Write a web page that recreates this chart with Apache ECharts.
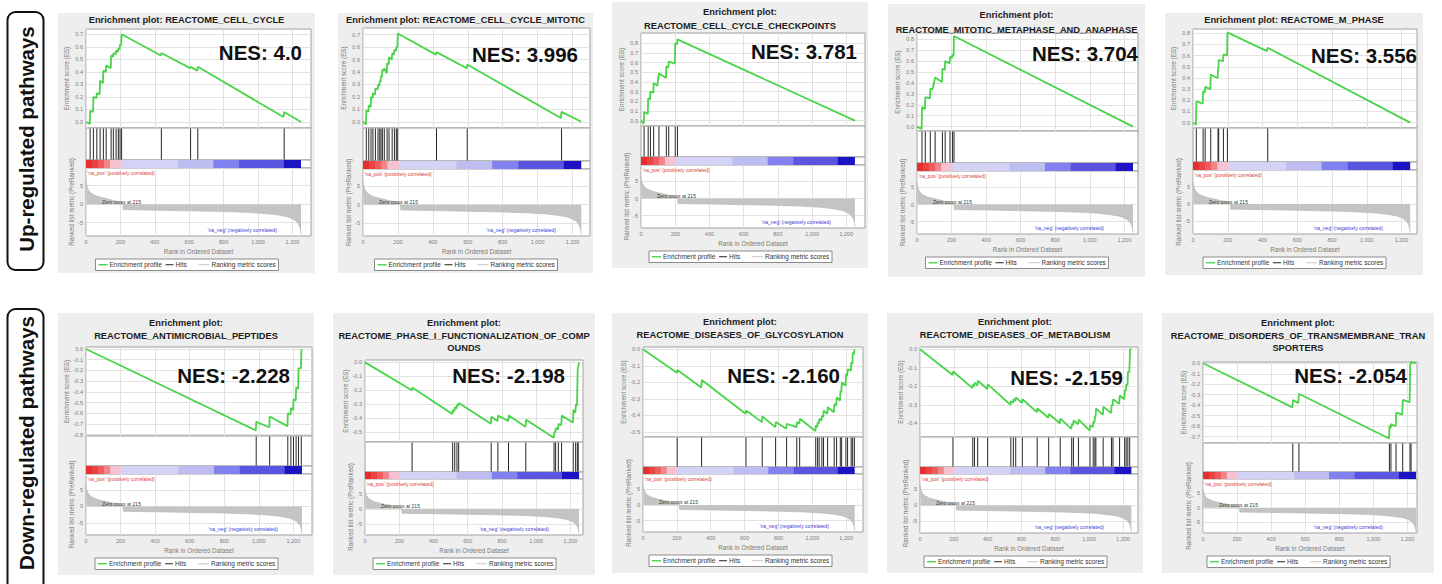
<!DOCTYPE html>
<html><head><meta charset="utf-8">
<script src="https://cdn.jsdelivr.net/npm/echarts@6/dist/echarts.min.js"></script>
<style>html,body{margin:0;padding:0;background:#fff}#c{width:1442px;height:584px}</style>
</head><body><div id="c"></div><script>
const FONT = '"Liberation Sans", Arial, Helvetica, sans-serif';

// ---------- tick labels ----------
const xTickValues = [0, 200, 400, 600, 800, 1000, 1200];
const metricTickValues = [-5, 0, 5];
const esTicks07 = [0, 0.1, 0.2, 0.3, 0.4, 0.5, 0.6, 0.7];
const esTicks08 = [0, 0.1, 0.2, 0.3, 0.4, 0.5, 0.6, 0.7, 0.8];
const esTicksNeg08 = [0, -0.1, -0.2, -0.3, -0.4, -0.5, -0.6, -0.7, -0.8];
const esTicksNeg05 = [0, -0.1, -0.2, -0.3, -0.4, -0.5];
const esTicksNeg04 = [0, -0.1, -0.2, -0.3, -0.4];
const esTicksNeg07 = [0, -0.1, -0.2, -0.3, -0.4, -0.5, -0.6, -0.7];

// ---------- pathway names / NES ----------
const pathwayTitles = [
  ['Enrichment plot: REACTOME_CELL_CYCLE'],
  ['Enrichment plot: REACTOME_CELL_CYCLE_MITOTIC'],
  ['Enrichment plot:', 'REACTOME_CELL_CYCLE_CHECKPOINTS'],
  ['Enrichment plot:', 'REACTOME_MITOTIC_METAPHASE_AND_ANAPHASE'],
  ['Enrichment plot: REACTOME_M_PHASE'],
  ['Enrichment plot:', 'REACTOME_ANTIMICROBIAL_PEPTIDES'],
  ['Enrichment plot:', 'REACTOME_PHASE_I_FUNCTIONALIZATION_OF_COMP', 'OUNDS'],
  ['Enrichment plot:', 'REACTOME_DISEASES_OF_GLYCOSYLATION'],
  ['Enrichment plot:', 'REACTOME_DISEASES_OF_METABOLISM'],
  ['Enrichment plot:', 'REACTOME_DISORDERS_OF_TRANSMEMBRANE_TRAN', 'SPORTERS']
];
const nesValues = ['4.0', '3.996', '3.781', '3.704', '3.556', '-2.228', '-2.198', '-2.160', '-2.159', '-2.054'];

// ---------- running enrichment scores [rank, ES] ----------
const es_cellCycle = [[0,0],[22,-0.015],[24,0.09],[41,0.08],[43,0.2],[61,0.19],[63,0.23],[79,0.22],[82,0.33],[98,0.31],[101,0.41],[115,0.40],[117,0.45],[144,0.43],[146,0.53],[157,0.52],[159,0.55],[173,0.54],[175,0.57],[186,0.56],[188,0.59],[196,0.58],[198,0.62],[204,0.61],[207,0.7],[435,0.53],[438,0.55],[605,0.43],[608,0.44],[647,0.41],[650,0.44],[1148,0.04],[1152,0.08],[1250,0.0]];
const es_cellCycleMitotic = [[0,0],[17,-0.02],[19,0.09],[31,0.08],[33,0.13],[44,0.12],[46,0.2],[55,0.19],[57,0.23],[69,0.22],[71,0.27],[84,0.26],[86,0.3],[94,0.29],[96,0.33],[101,0.32],[103,0.37],[109,0.36],[111,0.42],[120,0.41],[122,0.43],[136,0.39],[138,0.47],[147,0.46],[149,0.52],[165,0.5],[167,0.55],[178,0.54],[180,0.58],[189,0.57],[191,0.6],[197,0.6],[199,0.71],[418,0.54],[421,0.56],[594,0.43],[597,0.46],[1133,0.03],[1137,0.08],[1250,0.0]];
const es_checkpoints = [[0,0],[16,-0.03],[18,0.09],[40,0.07],[42,0.23],[53,0.22],[55,0.3],[72,0.29],[74,0.39],[95,0.36],[105,0.49],[146,0.44],[148,0.56],[160,0.55],[162,0.61],[198,0.59],[200,0.8],[211,0.79],[213,0.84],[1250,0.0]];
const es_metaphase = [[0,0],[27,-0.02],[29,0.18],[46,0.16],[48,0.27],[75,0.26],[77,0.35],[90,0.34],[105,0.45],[145,0.41],[147,0.53],[161,0.52],[163,0.6],[189,0.58],[191,0.64],[203,0.63],[205,0.66],[212,0.65],[214,0.83],[1250,0.0]];
const es_mPhase = [[0,0],[17,-0.02],[19,0.19],[56,0.17],[58,0.28],[68,0.27],[70,0.32],[100,0.3],[102,0.43],[142,0.4],[144,0.48],[146,0.47],[148,0.56],[173,0.55],[175,0.61],[196,0.6],[198,0.8],[200,0.806],[426,0.64],[430,0.67],[1250,0.0]];
const es_antimicrobial = [[0,0],[983,-0.76],[985,-0.68],[1061,-0.73],[1063,-0.63],[1166,-0.72],[1168,-0.6],[1184,-0.61],[1186,-0.55],[1199,-0.57],[1201,-0.47],[1214,-0.48],[1216,-0.36],[1228,-0.37],[1230,-0.18],[1244,-0.18],[1247,0.0],[1250,0.0]];
const es_phaseI = [[0,0],[273,-0.2],[276,-0.18],[510,-0.37],[513,-0.34],[522,-0.35],[525,-0.32],[535,-0.33],[538,-0.3],[545,-0.31],[548,-0.29],[735,-0.44],[738,-0.39],[774,-0.42],[777,-0.38],[836,-0.42],[840,-0.38],[937,-0.46],[941,-0.41],[1102,-0.54],[1106,-0.5],[1111,-0.5],[1114,-0.47],[1127,-0.48],[1130,-0.44],[1146,-0.45],[1149,-0.38],[1214,-0.43],[1217,-0.34],[1228,-0.36],[1232,-0.3],[1238,-0.31],[1242,-0.05],[1247,-0.02],[1250,0.0]];
const es_glycosylation = [[0,0],[200,-0.142],[203,-0.125],[344,-0.231],[347,-0.186],[606,-0.39],[609,-0.37],[702,-0.44],[705,-0.405],[781,-0.47],[784,-0.44],[846,-0.48],[849,-0.45],[906,-0.47],[909,-0.44],[923,-0.45],[926,-0.42],[1018,-0.494],[1021,-0.46],[1029,-0.47],[1032,-0.44],[1038,-0.45],[1041,-0.42],[1054,-0.43],[1057,-0.4],[1064,-0.41],[1067,-0.37],[1088,-0.39],[1091,-0.35],[1127,-0.38],[1130,-0.33],[1141,-0.34],[1144,-0.29],[1163,-0.31],[1166,-0.25],[1171,-0.26],[1174,-0.2],[1196,-0.22],[1199,-0.15],[1206,-0.16],[1209,-0.12],[1227,-0.13],[1230,-0.08],[1236,-0.09],[1239,-0.02],[1246,-0.03],[1249,0.0],[1250,0.0]];
const es_metabolism = [[0,0],[193,-0.139],[196,-0.12],[310,-0.21],[313,-0.19],[320,-0.2],[323,-0.18],[339,-0.195],[342,-0.17],[398,-0.215],[401,-0.19],[535,-0.3],[538,-0.28],[550,-0.29],[553,-0.27],[564,-0.28],[567,-0.26],[603,-0.29],[606,-0.27],[691,-0.34],[694,-0.32],[759,-0.37],[762,-0.35],[827,-0.4],[830,-0.375],[895,-0.43],[898,-0.405],[905,-0.41],[908,-0.385],[935,-0.405],[938,-0.38],[1003,-0.44],[1006,-0.41],[1022,-0.42],[1025,-0.39],[1032,-0.395],[1035,-0.36],[1038,-0.365],[1041,-0.32],[1081,-0.355],[1084,-0.31],[1130,-0.345],[1133,-0.3],[1139,-0.305],[1142,-0.27],[1178,-0.295],[1181,-0.25],[1208,-0.27],[1211,-0.22],[1217,-0.225],[1220,-0.19],[1227,-0.195],[1230,-0.12],[1238,-0.125],[1242,0.0],[1250,0.0]];
const es_transmembrane = [[0,0],[525,-0.42],[528,-0.35],[559,-0.38],[563,-0.29],[1092,-0.717],[1095,-0.59],[1101,-0.62],[1104,-0.58],[1131,-0.6],[1134,-0.47],[1169,-0.49],[1173,-0.35],[1213,-0.37],[1216,-0.02],[1221,0.01],[1250,0.0]];

// ---------- hit positions (ranks) ----------
const hits_cellCycle = [24,43,63,82,101,117,146,159,175,188,198,207,438,608,650,1152];
const hits_cellCycleMitotic = [19,33,46,57,71,86,96,103,111,122,138,149,167,180,191,199,421,597,1137];
const hits_checkpoints = [18,42,55,74,105,148,162,200,213];
const hits_metaphase = [29,48,77,105,147,163,191,205,214];
const hits_mPhase = [19,58,70,102,144,148,175,198,430];
const hits_antimicrobial = [985,1063,1168,1186,1201,1216,1230,1246];
const hits_phaseI = [275,512,524,537,547,737,776,838,939,1104,1113,1129,1148,1216,1230,1240,1245];
const hits_glycosylation = [202,346,608,704,783,848,908,925,1020,1031,1040,1056,1066,1090,1129,1143,1165,1173,1198,1208,1229,1238,1248];
const hits_metabolism = [195,312,322,341,400,537,552,566,605,693,761,829,897,907,937,1005,1024,1034,1040,1083,1132,1141,1180,1210,1219,1229,1240];
const hits_transmembrane = [527,563,1094,1103,1133,1172,1215,1221];

// ---------- ranked list metric [rank, value] ----------
const rankedMetric = [[0,6.5],[3,5.4],[8,4.5],[15,3.8],[25,3.2],[40,2.7],[55,2.35],[80,1.95],[110,1.6],[140,1.25],[170,0.9],[195,0.6],[212,0.3],[215,0.0],[216,-1.45],[260,-1.5],[400,-1.6],[600,-1.8],[800,-2.0],[950,-2.25],[1050,-2.55],[1120,-2.95],[1170,-3.4],[1200,-3.9],[1225,-4.7],[1240,-5.8],[1247,-7.0],[1250,-8.2]];

// ---------- colour bar segments (ranks) ----------
const colorBarStarts = [0, 35, 70, 105, 140, 205, 535, 740, 890, 1150];
const colorBarEnds   = [35, 70, 105, 140, 205, 535, 740, 890, 1150, 1250];
const colorBarColors = ['#e62e2e','#eb4343','#ef5c5e','#f38588','#f6c1d0','#d3d3f6','#bdbdf2','#8181ef','#5a55e0','#1c14c4'];

// ---------- panels ----------
const panels = [
  {es: es_cellCycle, hits: hits_cellCycle, esTicks: esTicks07, esRange: [-0.048, 0.742], xMax: 1308},
  {es: es_cellCycleMitotic, hits: hits_cellCycleMitotic, esTicks: esTicks07, esRange: [-0.05, 0.754], xMax: 1300},
  {es: es_checkpoints, hits: hits_checkpoints, esTicks: esTicks08, esRange: [-0.055, 0.906], xMax: 1309},
  {es: es_metaphase, hits: hits_metaphase, esTicks: esTicks08, esRange: [-0.04, 0.858], xMax: 1279},
  {es: es_mPhase, hits: hits_mPhase, esTicks: esTicks08, esRange: [-0.048, 0.838], xMax: 1289},
  {es: es_antimicrobial, hits: hits_antimicrobial, esTicks: esTicksNeg08, esRange: [-0.812, 0.019], xMax: 1308},
  {es: es_phaseI, hits: hits_phaseI, esTicks: esTicksNeg05, esRange: [-0.57, 0.017], xMax: 1273},
  {es: es_glycosylation, hits: hits_glycosylation, esTicks: esTicksNeg05, esRange: [-0.53, 0.014], xMax: 1299},
  {es: es_metabolism, hits: hits_metabolism, esTicks: esTicksNeg04, esRange: [-0.474, 0.012], xMax: 1289},
  {es: es_transmembrane, hits: hits_transmembrane, esTicks: esTicksNeg07, esRange: [-0.76, 0.012], xMax: 1256}
];

// ---------- layout (pixels) ----------
const layout = [
  {box:[58,13,257,260],  L:86,   R:311,  esTop:29,  esBot:128, hitsBot:160, cbBot:168, metBot:236, titleY:20,  titleGap:13,   nesX:302,  nesY:52},
  {box:[338,13,255,260], L:363,  R:590,  esTop:28,  esBot:128, hitsBot:161, cbBot:169, metBot:236, titleY:20,  titleGap:13,   nesX:578,  nesY:54},
  {box:[612,2,256,266],  L:641,  R:865,  esTop:33,  esBot:126, hitsBot:157, cbBot:165, metBot:228, titleY:12,  titleGap:14,   nesX:857,  nesY:51},
  {box:[888,4,257,273],  L:917,  R:1138, esTop:33,  esBot:131, hitsBot:163, cbBot:171, metBot:234, titleY:15,  titleGap:15,   nesX:1138, nesY:53},
  {box:[1165,13,258,262],L:1193, R:1417, esTop:29,  esBot:128, hitsBot:162, cbBot:170, metBot:234, titleY:20,  titleGap:13,   nesX:1417, nesY:55},
  {box:[58,313,256,262], L:86,   R:312,  esTop:347, esBot:436, hitsBot:466, cbBot:474, metBot:535, titleY:323, titleGap:12.5, nesX:290,  nesY:375},
  {box:[333,313,262,262],L:365,  R:583,  esTop:360, esBot:442, hitsBot:472, cbBot:479, metBot:535, titleY:323, titleGap:12.5, nesX:565,  nesY:375},
  {box:[612,313,256,260],L:643,  R:863,  esTop:347, esBot:437, hitsBot:467, cbBot:474, metBot:532, titleY:322, titleGap:13,   nesX:840,  nesY:375},
  {box:[887,313,256,260],L:920,  R:1138, esTop:347, esBot:437, hitsBot:467, cbBot:474, metBot:533, titleY:322, titleGap:13,   nesX:1123, nesY:377},
  {box:[1162,313,272,260],L:1203,R:1417, esTop:362, esBot:443, hitsBot:472, cbBot:479, metBot:533, titleY:323, titleGap:12.5, nesX:1407, nesY:375}
];

const METRIC_MIN = -8.6, METRIC_MAX = 9.8;

function txt(x, y, text, o) {
  o = o || {};
  const align = o.align || 'left';
  return {type:'text', z: o.z != null ? o.z : 20, x: x, y: y, rotation: o.rotation || 0, silent: true,
    style: {text: text, fill: o.fill || '#333', fontSize: o.size || 6, fontWeight: o.weight || 'normal',
      fontFamily: FONT, align: align, textAlign: align, verticalAlign: 'middle', textVerticalAlign: 'middle'}};
}

const grids = [], xAxis = [], yAxis = [], series = [], elements = [];
const gridLine = {show: true, lineStyle: {color: '#e2e2e2', width: 1}};
const axisLabelBase = {fontSize: 5.5, color: '#7c7c7c', fontFamily: FONT};
const nameStyle = {fontSize: 6.3, color: '#7a7a7a', fontFamily: FONT};

panels.forEach((p, i) => {
  const g = layout[i];
  const W = g.R - g.L;
  const bands = [[g.esTop, g.esBot], [g.esBot, g.hitsBot], [g.hitsBot, g.cbBot], [g.cbBot, g.metBot]];
  bands.forEach(([t, b]) => grids.push({left: g.L, top: t, width: W, height: b - t, show: true,
    backgroundColor: '#ffffff', borderColor: '#a0a0a0', borderWidth: 1}));
  const base = i * 4;
  for (let k = 0; k < 4; k++) {
    const visible = (k === 0 || k === 3);
    xAxis.push({type: 'value', gridIndex: base + k, min: 0, max: p.xMax, show: visible,
      axisLine: {show: false}, axisTick: {show: false, customValues: xTickValues},
      axisLabel: Object.assign({show: k === 3, customValues: xTickValues, margin: 3,
        formatter: v => v.toLocaleString('en-US')}, axisLabelBase),
      splitLine: visible ? gridLine : {show: false},
      name: k === 3 ? 'Rank in Ordered Dataset' : '', nameLocation: 'middle', nameGap: 12.5,
      nameTextStyle: nameStyle});
  }
  yAxis.push({type: 'value', gridIndex: base, min: p.esRange[0], max: p.esRange[1],
    axisLine: {show: false}, axisTick: {show: false, customValues: p.esTicks},
    axisLabel: Object.assign({customValues: p.esTicks, margin: 3, formatter: v => v.toFixed(1)}, axisLabelBase),
    splitLine: gridLine, name: 'Enrichment score (ES)', nameLocation: 'middle', nameGap: 17, nameRotate: 90,
    nameTextStyle: nameStyle});
  yAxis.push({type: 'value', gridIndex: base + 1, min: 0, max: 1, show: false, splitLine: {show: false}});
  yAxis.push({type: 'value', gridIndex: base + 2, min: 0, max: 1, show: false, splitLine: {show: false}});
  yAxis.push({type: 'value', gridIndex: base + 3, min: METRIC_MIN, max: METRIC_MAX,
    axisLine: {show: false}, axisTick: {show: false, customValues: metricTickValues},
    axisLabel: Object.assign({customValues: metricTickValues, margin: 3}, axisLabelBase),
    splitLine: gridLine, name: 'Ranked list metric (PreRanked)', nameLocation: 'middle', nameGap: 9, nameRotate: 90,
    nameTextStyle: nameStyle});

  series.push({type: 'line', xAxisIndex: base, yAxisIndex: base, data: p.es, symbol: 'none', showSymbol: false,
    lineStyle: {color: '#4ad44a', width: 1.8}, clip: true, silent: true, z: 3});
  series.push({type: 'custom', xAxisIndex: base + 1, yAxisIndex: base + 1, data: p.hits.map(h => [h]),
    encode: {x: 0}, silent: true,
    renderItem: (params, api) => {
      const a = api.coord([api.value(0), 1]);
      const b = api.coord([api.value(0), 0]);
      return {type: 'line', shape: {x1: a[0], y1: a[1] + 0.5, x2: b[0], y2: b[1] - 0.5}, style: {stroke: '#262626', lineWidth: 1}};
    }});
  series.push({type: 'custom', xAxisIndex: base + 2, yAxisIndex: base + 2,
    data: colorBarStarts.map((s, j) => [s, colorBarEnds[j], j]), encode: {x: [0, 1]}, silent: true,
    renderItem: (params, api) => {
      const a = api.coord([api.value(0), 1]);
      const b = api.coord([api.value(1), 0]);
      const last = api.value(2) === colorBarColors.length - 1;
      return {type: 'rect', shape: {x: a[0], y: a[1], width: b[0] - a[0] + (last ? 0 : 0.6), height: b[1] - a[1]},
        style: {fill: colorBarColors[api.value(2)]}};
    }});
  series.push({type: 'line', xAxisIndex: base + 3, yAxisIndex: base + 3, data: rankedMetric, symbol: 'none',
    showSymbol: false, lineStyle: {width: 0.6, color: '#b4b4b4'}, areaStyle: {color: '#c4c4c4', opacity: 1},
    clip: true, silent: true});

  // panel background
  elements.push({type: 'rect', z: -10, silent: true, shape: {x: g.box[0], y: g.box[1], width: g.box[2], height: g.box[3]},
    style: {fill: '#eeeeee'}});
  const cx = g.box[0] + g.box[2] / 2;
  pathwayTitles[i].forEach((line, k) => elements.push(
    txt(cx, g.titleY + k * g.titleGap, line, {align: 'center', size: 9.3, weight: 'bold', fill: '#1c1c1c'})));
  elements.push(txt(g.nesX, g.nesY, 'NES: ' + nesValues[i], {align: 'right', size: 20.5, weight: 'bold', fill: '#111'}));
  elements.push(txt(g.L + 1.5, g.cbBot + 4.5, "'na_pos' (positively correlated)", {size: 5, fill: '#e03c3c'}));
  elements.push(txt(g.R - 34, g.metBot - 6, "'na_neg' (negatively correlated)", {align: 'right', size: 5, fill: '#3c3cd6'}));
  const y0 = g.cbBot + (METRIC_MAX / (METRIC_MAX - METRIC_MIN)) * (g.metBot - g.cbBot);
  elements.push(txt(g.L + 16, y0 - 2.5, 'Zero cross at 215', {size: 5, fill: '#3a3a3a'}));

  // legend
  const lx = cx - 91, ly = g.metBot + 23, lh = 11.5, lm = ly + lh / 2;
  elements.push({type: 'rect', z: 20, silent: true, shape: {x: lx, y: ly, width: 183, height: lh},
    style: {fill: '#ffffff', stroke: '#6e6e6e', lineWidth: 0.8}});
  elements.push({type: 'line', z: 21, silent: true, shape: {x1: lx + 3, y1: lm, x2: lx + 12, y2: lm}, style: {stroke: '#4ad44a', lineWidth: 1.4}});
  elements.push(txt(lx + 14, lm, 'Enrichment profile', {size: 6.5, fill: '#333', z: 21}));
  elements.push({type: 'line', z: 21, silent: true, shape: {x1: lx + 70, y1: lm, x2: lx + 78, y2: lm}, style: {stroke: '#222', lineWidth: 1}});
  elements.push(txt(lx + 80, lm, 'Hits', {size: 6.5, fill: '#333', z: 21}));
  elements.push({type: 'line', z: 21, silent: true, shape: {x1: lx + 103, y1: lm, x2: lx + 114, y2: lm}, style: {stroke: '#c4c4c4', lineWidth: 1}});
  elements.push(txt(lx + 116, lm, 'Ranking metric scores', {size: 6.5, fill: '#333', z: 21}));
});

// row labels
elements.push({type: 'rect', z: 20, silent: true, shape: {x: 7.5, y: 12, width: 36, height: 258, r: 8},
  style: {fill: 'none', stroke: '#111', lineWidth: 2}});
elements.push(txt(26.5, 139, 'Up-regulated pathways', {align: 'center', size: 20.5, weight: 'bold', fill: '#111', rotation: Math.PI / 2}));
elements.push({type: 'rect', z: 20, silent: true, shape: {x: 7.5, y: 309, width: 36, height: 300, r: 8},
  style: {fill: 'none', stroke: '#111', lineWidth: 2}});
elements.push(txt(26.5, 443, 'Down-regulated pathways', {align: 'center', size: 20.5, weight: 'bold', fill: '#111', rotation: Math.PI / 2}));

const chart = echarts.init(document.getElementById('c'), null, {renderer: 'svg', width: 1442, height: 584});
chart.setOption({
  animation: false,
  backgroundColor: '#ffffff',
  grid: grids, xAxis: xAxis, yAxis: yAxis, series: series,
  graphic: {elements: elements}
});
</script></body></html>
